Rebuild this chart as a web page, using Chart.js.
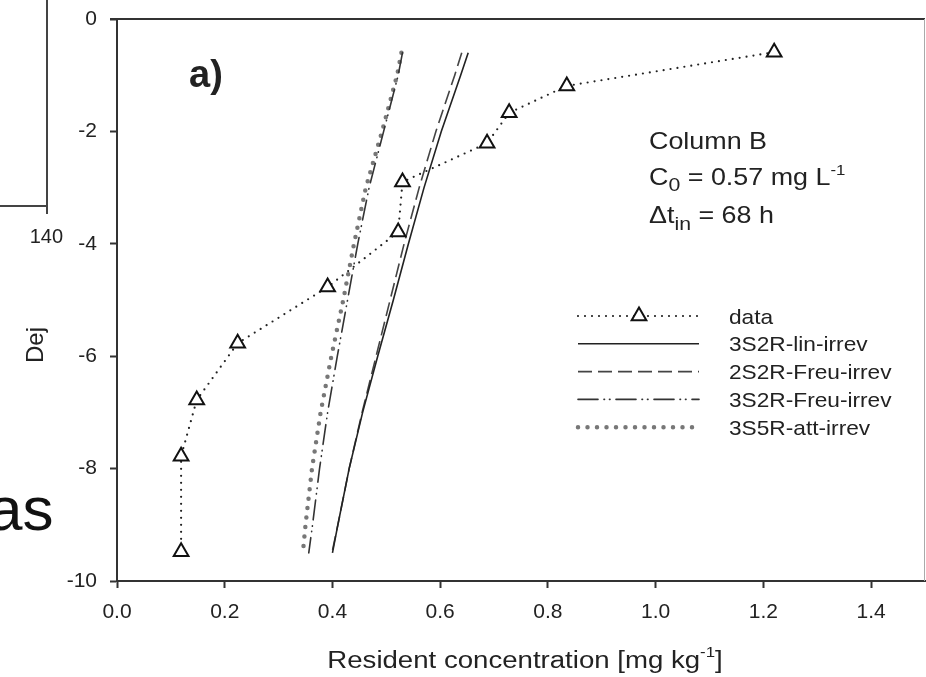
<!DOCTYPE html>
<html>
<head>
<meta charset="utf-8">
<script src="https://cdn.jsdelivr.net/npm/chart.js@4"></script>
<style>
  html, body { margin: 0; padding: 0; background: #fff; overflow: hidden; }
  #wrap { width: 926px; height: 677px; overflow: hidden; }
  canvas { display: block; }
</style>
</head>
<body>
<div id="wrap"><canvas id="chart" width="950" height="677"></canvas></div>
<script>
// measured profile, column B
const dataDepth = [-0.59, -1.19, -1.67, -2.21, -2.90, -3.79, -4.77, -5.77, -6.78, -7.78, -9.48];
const dataConc = [1.220, 0.835, 0.728, 0.687, 0.530, 0.522, 0.391, 0.224, 0.148, 0.119, 0.119];

// model curves
const modelDepth = [-0.6, -1, -2, -3, -4, -5, -6, -7, -8, -9, -9.5];
const linIrrev = [0.652, 0.638, 0.602, 0.570, 0.541, 0.513, 0.484, 0.456, 0.431, 0.410, 0.400];
const freu2Irrev = [0.640, 0.627, 0.592, 0.561, 0.533, 0.507, 0.481, 0.455, 0.431, 0.410, 0.399];
const freu3Irrev = [0.530, 0.522, 0.495, 0.468, 0.447, 0.428, 0.409, 0.391, 0.376, 0.363, 0.356];
const attDepth = [-0.6, -1, -2, -3, -4, -5, -6, -7, -8, -9, -9.4];
const attIrrev = [0.528, 0.520, 0.492, 0.462, 0.440, 0.420, 0.398, 0.378, 0.362, 0.350, 0.346];

const xTicks = [0, 0.2, 0.4, 0.6, 0.8, 1.0, 1.2, 1.4];
const yTicks = [0, -2, -4, -6, -8, -10];

const legendLabels = ["data", "3S2R-lin-irrev", "2S2R-Freu-irrev", "3S2R-Freu-irrev", "3S5R-att-irrev"];

const FONT = "'Liberation Sans', Arial, Helvetica, sans-serif";

// wanted plot box; the canvas is a bit wider than the page so the
// right frame can sit right at the page edge
const AREA = { left: 117, right: 925, top: 19, bottom: 581 };

const pts = (xs, ys) => xs.map((x, i) => ({ x: x, y: ys[i] }));

const styles = [
    { color: "#222", width: 2.2, dash: [0, 7], cap: "round" },
    { color: "#222", width: 1.6, dash: [], cap: "butt" },
    { color: "#444", width: 1.6, dash: [14, 6], cap: "butt" },
    { color: "#333", width: 1.6, dash: [20, 6, 0.5, 5, 0.5, 6], cap: "round" },
    { color: "#777", width: 4.5, dash: [0, 9.5], cap: "round" }
];

const makeDatasets = () => [
    pts(dataConc, dataDepth),
    pts(linIrrev, modelDepth),
    pts(freu2Irrev, modelDepth),
    pts(freu3Irrev, modelDepth),
    pts(attIrrev, attDepth)
].map((d, i) => ({
    label: legendLabels[i],
    data: d,
    showLine: true,
    borderColor: styles[i].color,
    borderWidth: styles[i].width,
    borderDash: styles[i].dash,
    borderCapStyle: styles[i].cap,
    pointRadius: i === 0 ? 8.5 : 0,
    pointStyle: "triangle",
    pointBorderColor: "#111",
    pointBorderWidth: 2,
    pointBackgroundColor: "#fff",
    tension: 0
}));

// text made of pieces (sub/superscripts), stretched a bit horizontally
function richText(ctx, parts, x, y, sx) {
    ctx.save();
    ctx.translate(x, y);
    ctx.scale(sx, 1);
    ctx.fillStyle = "#222";
    ctx.textBaseline = "alphabetic";
    ctx.textAlign = "left";
    let cx = 0;
    for (const p of parts) {
        ctx.font = (p.bold ? "bold " : "") + p.size + "px " + FONT;
        ctx.fillText(p.t, cx, p.dy || 0);
        cx += ctx.measureText(p.t).width;
    }
    ctx.restore();
}

const noPad = (s) => {
    s.paddingTop = 0;
    s.paddingBottom = 0;
    s.paddingLeft = 0;
    s.paddingRight = 0;
};

const decor = {
    id: "decor",
    beforeDraw(chart) {
        const ctx = chart.ctx;
        ctx.save();
        ctx.fillStyle = "#fff";
        ctx.fillRect(0, 0, chart.width, chart.height);

        // pieces of the neighbouring panel on the left
        ctx.strokeStyle = "#444";
        ctx.lineWidth = 2;
        ctx.beginPath();
        ctx.moveTo(47, 0);
        ctx.lineTo(47, 214);
        ctx.moveTo(0, 206);
        ctx.lineTo(47, 206);
        ctx.stroke();

        ctx.fillStyle = "#222";
        ctx.font = "20px " + FONT;
        ctx.textAlign = "right";
        ctx.fillText("140", 63, 243);

        ctx.save();
        ctx.translate(43, 363);
        ctx.rotate(-Math.PI / 2);
        ctx.textAlign = "left";
        ctx.font = "24px " + FONT;
        ctx.fillText("Dej", 0, 0);
        ctx.restore();
        ctx.fillStyle = "#fff";
        ctx.fillRect(10, 290, 50, 36);

        ctx.fillStyle = "#111";
        ctx.textAlign = "left";
        ctx.font = "62px " + FONT;
        ctx.fillText("as", -12, 530);
        ctx.restore();
    },
    afterDraw(chart) {
        const ctx = chart.ctx;
        const a = chart.chartArea;
        ctx.save();

        // frame: heavy top, light right
        ctx.strokeStyle = "#333";
        ctx.lineWidth = 2;
        ctx.beginPath();
        ctx.moveTo(a.left - 7, a.top);
        ctx.lineTo(a.right, a.top);
        ctx.stroke();
        ctx.strokeStyle = "#aaa";
        ctx.lineWidth = 1;
        ctx.beginPath();
        ctx.moveTo(a.right - 0.5, a.top);
        ctx.lineTo(a.right - 0.5, a.bottom);
        ctx.stroke();

        richText(ctx, [{ t: "a)", size: 38, bold: true }], 189, 87, 1.0);

        richText(ctx, [{ t: "Column B", size: 24 }], 649, 149, 1.12);
        richText(ctx, [
            { t: "C", size: 24 },
            { t: "0", size: 19, dy: 6 },
            { t: " = 0.57 mg L", size: 24 },
            { t: "-1", size: 15, dy: -10 }
        ], 649, 185, 1.12);
        richText(ctx, [
            { t: "\u0394t", size: 24 },
            { t: "in", size: 19, dy: 7 },
            { t: " = 68 h", size: 24 }
        ], 649, 223, 1.12);

        // legend
        const x1 = 578, x2 = 699;
        styles.forEach((s, i) => {
            const y = 316 + i * 27.8;
            ctx.strokeStyle = s.color;
            ctx.lineWidth = s.width;
            ctx.lineCap = s.cap;
            ctx.setLineDash(s.dash);
            ctx.beginPath();
            ctx.moveTo(x1, y);
            ctx.lineTo(x2, y);
            ctx.stroke();
            ctx.setLineDash([]);
            ctx.lineCap = "butt";
            if (i === 0) {
                const r = 8.5, cx = 639;
                ctx.fillStyle = "#fff";
                ctx.strokeStyle = "#111";
                ctx.lineWidth = 2;
                ctx.beginPath();
                ctx.moveTo(cx, y - r);
                ctx.lineTo(cx + r * 0.866, y + r / 2);
                ctx.lineTo(cx - r * 0.866, y + r / 2);
                ctx.closePath();
                ctx.fill();
                ctx.stroke();
            }
            richText(ctx, [{ t: legendLabels[i], size: 21 }], 729, y + 7.5, 1.08);
        });

        // x axis title
        const title = [
            { t: "Resident concentration [mg kg", size: 23 },
            { t: "-1", size: 14, dy: -11 },
            { t: "]", size: 23 }
        ];
        let w = 0;
        for (const p of title) {
            ctx.font = p.size + "px " + FONT;
            w += ctx.measureText(p.t).width;
        }
        const sx = 1.2;
        richText(ctx, title, (a.left + a.right) / 2 + 4 - w * sx / 2, 668, sx);
        ctx.restore();
    }
};

const tickFont = { family: FONT, size: 21 };
const axisGrid = { drawOnChartArea: false, drawTicks: true, tickLength: 7, tickColor: "#333", tickWidth: 2 };
const axisBorder = { display: true, color: "#333", width: 2 };

function build(pad) {
    return new Chart(document.getElementById("chart"), {
        type: "scatter",
        data: { datasets: makeDatasets() },
        options: {
            responsive: false,
            animation: false,
            events: [],
            layout: { padding: pad },
            plugins: { legend: { display: false }, tooltip: { enabled: false } },
            scales: {
                x: {
                    type: "linear",
                    min: 0,
                    max: 1.5,
                    afterBuildTicks: (s) => { s.ticks = xTicks.map(v => ({ value: v })); },
                    afterFit: (s) => { s.height = 96; noPad(s); },
                    ticks: {
                        callback: (v) => Number(v).toFixed(1),
                        font: tickFont,
                        color: "#222",
                        padding: 12,
                        maxRotation: 0,
                        autoSkip: false
                    },
                    grid: axisGrid,
                    border: axisBorder
                },
                y: {
                    type: "linear",
                    min: -10,
                    max: 0,
                    afterBuildTicks: (s) => { s.ticks = yTicks.map(v => ({ value: v })); },
                    afterFit: (s) => { s.width = 117; noPad(s); },
                    ticks: {
                        callback: (v) => String(v),
                        font: tickFont,
                        color: "#222",
                        padding: 13,
                        autoSkip: false
                    },
                    grid: axisGrid,
                    border: axisBorder
                }
            }
        },
        plugins: [decor]
    });
}

// rebuild with corrected padding until the plot box sits where the figure has it
const canvasW = document.getElementById("chart").width;
let pad = { left: 0, right: canvasW - AREA.right, top: 19, bottom: 0 };
let chart = build(pad);
for (let k = 0; k < 3; k++) {
    const a = chart.chartArea;
    const dr = a.right - AREA.right, dt = a.top - AREA.top;
    const dl = a.left - AREA.left, db = a.bottom - AREA.bottom;
    if (Math.abs(dr) + Math.abs(dt) + Math.abs(dl) + Math.abs(db) < 0.5) break;
    pad = { left: pad.left - dl, right: pad.right + dr, top: pad.top - dt, bottom: pad.bottom + db };
    chart.destroy();
    chart = build(pad);
}
</script>
</body>
</html>
